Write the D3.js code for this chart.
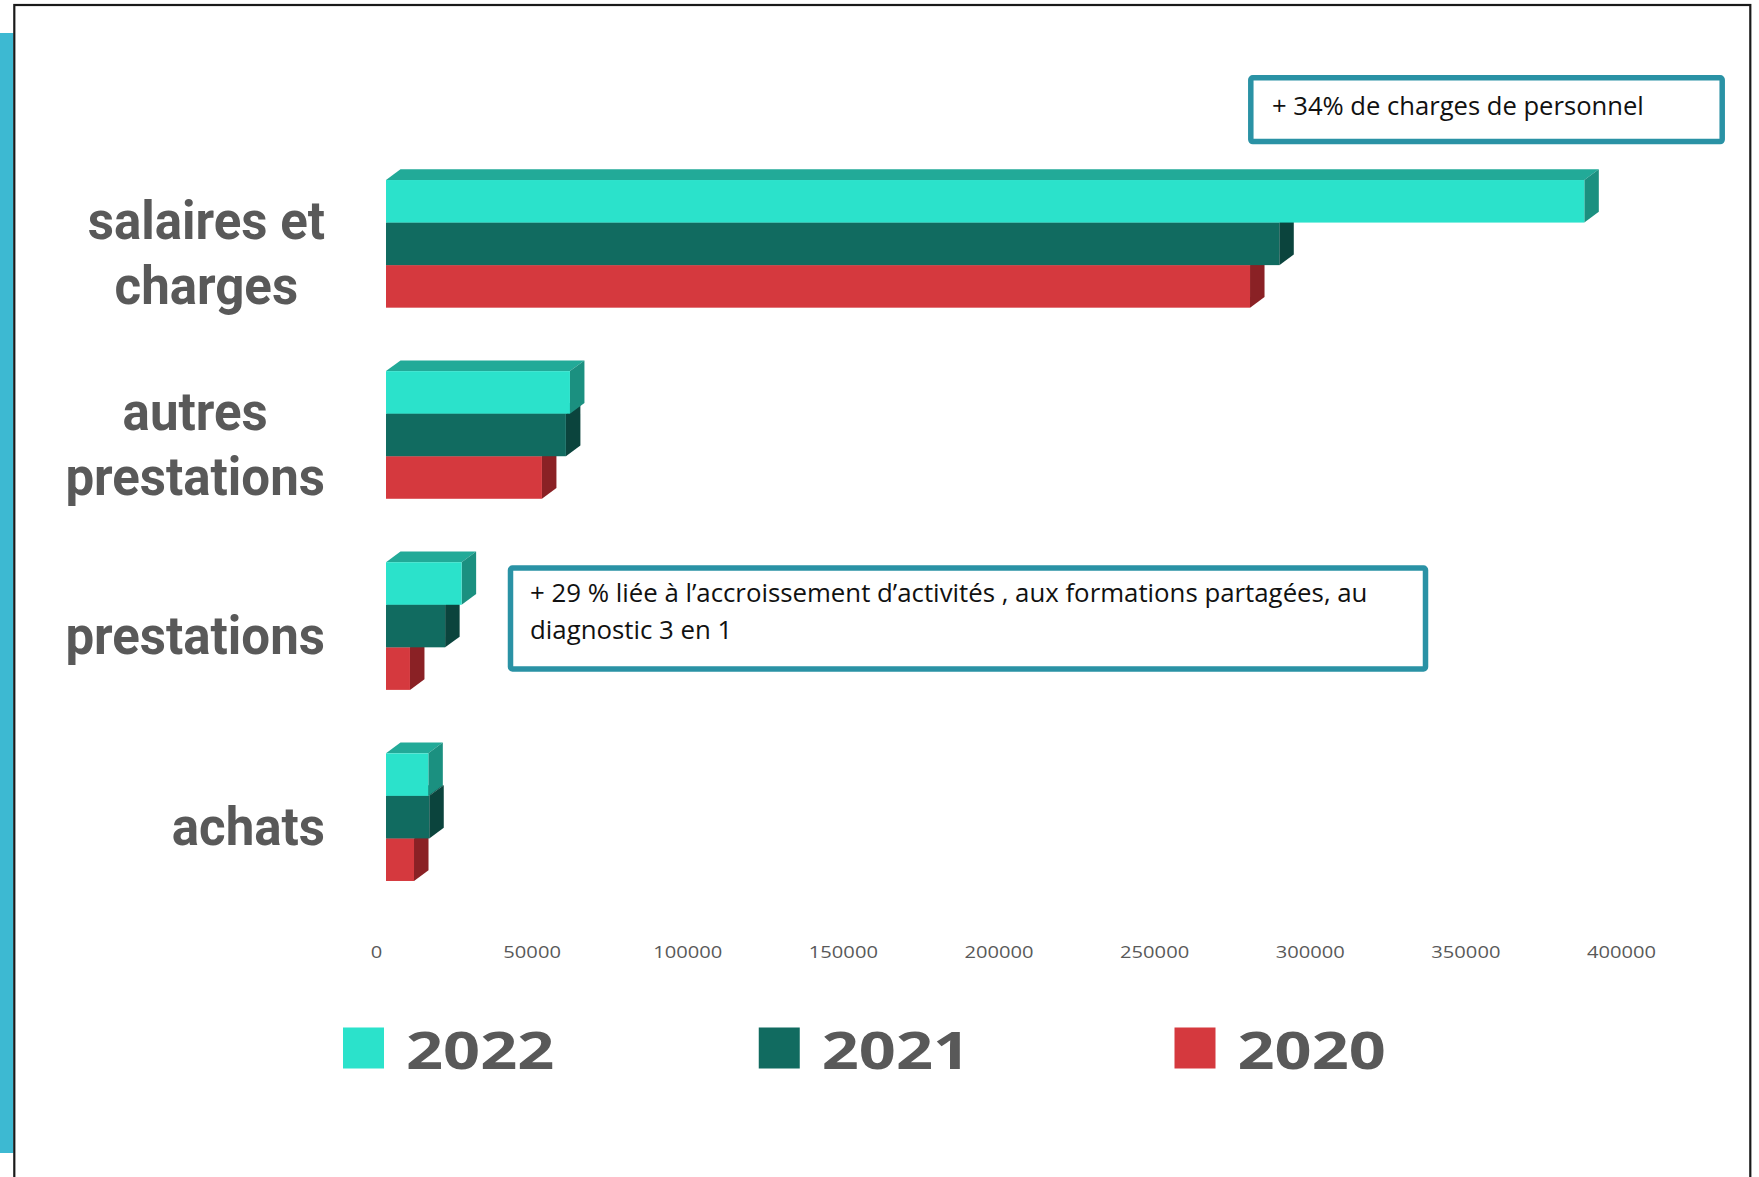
<!DOCTYPE html>
<html><head><meta charset="utf-8">
<script src="https://cdn.jsdelivr.net/npm/d3@7"></script>
<style>body{margin:0;background:#fff}svg{display:block}</style>
</head><body>
<svg id="c" width="1759" height="1177"></svg>
<script>
// ---- data ----
const categories = ["salaires et charges", "autres prestations", "prestations", "achats"];
const categoryLines = [["salaires et", "charges"], ["autres", "prestations"], ["prestations"], ["achats"]];
const years = ["2022", "2021", "2020"];
const values2022 = [385000, 59100, 24300, 13600];
const values2021 = [287000, 57800, 19000, 13900];
const values2020 = [277600, 50100, 7700, 9000];
const tickValues = [0, 50000, 100000, 150000, 200000, 250000, 300000, 350000, 400000];
const note1 = "+ 34% de charges de personnel";
const note2Lines = ["+ 29 % liée à l’accroissement d’activités , aux formations partagées, au", "diagnostic 3 en 1"];

const seriesValues = { "2022": values2022, "2021": values2021, "2020": values2020 };
const colors = {
  "2022": { front: "#2BE2CB", top: "#22AA98", side: "#1B9080" },
  "2021": { front: "#116B60", top: "#0E574E", side: "#0B443D" },
  "2020": { front: "#D5393E", top: "#A82C30", side: "#8A2125" }
};

const svg = d3.select("#c");
svg.append("rect").attr("width", 1759).attr("height", 1177).attr("fill", "#fff");

// left accent strip and frame
svg.append("rect").attr("x", 0).attr("y", 33).attr("width", 13.5).attr("height", 1120).attr("fill", "#3DB9D2");
svg.append("rect").attr("x", 14.3).attr("y", 5).attr("width", 1736).attr("height", 1200)
  .attr("fill", "none").attr("stroke", "#1a1a1a").attr("stroke-width", 2.2);

// scales
const x = d3.scaleLinear().domain([0, 400000]).range([376, 1621]);
const y = d3.scaleBand().domain(categories).range([148.3, 912.7]).paddingInner(0.332).paddingOuter(0.166);
const yy = d3.scaleBand().domain(years).range([0, y.bandwidth()]);
const depthX = 14.5, depthY = 10.7, shift = 10;

// bars (draw from bottom series to top so upper bars cover lower ones)
const barG = svg.append("g");
categories.forEach((cat, ci) => {
  years.slice().reverse().forEach(yr => {
    const v = seriesValues[yr][ci];
    const x0 = x(0) + shift, x1 = x(v) + shift;
    const y0 = y(cat) + yy(yr), y1 = y0 + yy.bandwidth();
    const c = colors[yr];
    const g = barG.append("g");
    g.append("polygon").attr("points", [[x0, y0], [x0 + depthX, y0 - depthY], [x1 + depthX, y0 - depthY], [x1, y0]].join(" ")).attr("fill", c.top);
    g.append("polygon").attr("points", [[x1, y0], [x1 + depthX, y0 - depthY], [x1 + depthX, y1 - depthY], [x1, y1]].join(" ")).attr("fill", c.side);
    g.append("rect").attr("x", x0).attr("y", y0).attr("width", x1 - x0).attr("height", y1 - y0).attr("fill", c.front);
  });
});

// category labels (one text element per category, one tspan per line)
const labelSX = 0.945, labelRight = 325, lineH = 65;
const labG = svg.append("g");
categories.forEach((cat, ci) => {
  const lines = categoryLines[ci];
  const center = y(cat) + y.bandwidth() / 2;
  const g = labG.append("g");
  const t = g.append("text")
    .attr("font-family", "Roboto, sans-serif").attr("font-weight", 700)
    .attr("font-size", 54).attr("fill", "#595959").attr("text-anchor", "middle");
  const spans = lines.map((ln, li) => t.append("tspan").attr("x", 0)
    .attr("y", center + 28 + (li - (lines.length - 1) / 2) * lineH).text(ln));
  const w = d3.max(spans, s => s.node().getComputedTextLength()) * labelSX;
  const cx = labelRight - w / 2;
  g.attr("transform", `translate(${cx},0) scale(${labelSX},1)`);
});

// x axis tick labels
const axisG = svg.append("g").attr("transform", "translate(0,952)")
  .call(d3.axisBottom(x).tickValues(tickValues).tickFormat(d3.format("d")).tickSize(0));
axisG.select(".domain").remove();
axisG.selectAll("text").attr("y", 0).attr("dy", "0.36em")
  .attr("font-family", "'Open Sans', sans-serif").attr("font-size", 15.5).attr("fill", "#595959")
  .attr("transform", "scale(1.3,1)");

// legend
const lx = d3.scalePoint().domain(years).range([343, 1174.5]);
const legG = svg.append("g");
years.forEach(yr => {
  legG.append("rect").attr("x", lx(yr)).attr("y", 1027.5).attr("width", 41).attr("height", 41).attr("fill", colors[yr].front);
  legG.append("g").attr("transform", `translate(${lx(yr) + 63},1069) scale(1.26,1)`)
    .append("text").text(yr).attr("font-family", "'Open Sans', sans-serif").attr("font-weight", 700)
    .attr("font-size", 51.5).attr("fill", "#595959");
});

// annotation boxes
const boxStroke = "#2A92A5";
svg.append("rect").attr("x", 1250.8).attr("y", 77.8).attr("width", 471.4).attr("height", 63.8)
  .attr("rx", 2).attr("fill", "#fff").attr("stroke", boxStroke).attr("stroke-width", 5.5);
svg.append("text").text(note1).attr("x", 1272).attr("y", 115)
  .attr("font-family", "'Open Sans', sans-serif").attr("font-size", 25.6).attr("fill", "#111");

svg.append("rect").attr("x", 510.5).attr("y", 568).attr("width", 915).attr("height", 101)
  .attr("rx", 2).attr("fill", "#fff").attr("stroke", boxStroke).attr("stroke-width", 5.5);
const n2 = svg.append("text").attr("font-family", "'Open Sans', sans-serif").attr("font-size", 25.8).attr("fill", "#111");
note2Lines.forEach((ln, i) => n2.append("tspan").attr("x", 530).attr("y", 602 + i * 36.5).text(ln));
</script>
</body></html>
